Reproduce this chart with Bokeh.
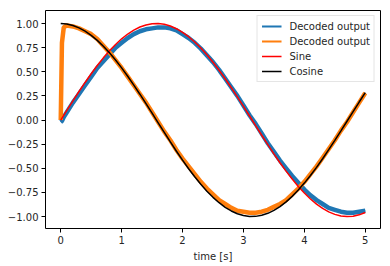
from bokeh.plotting import figure
from bokeh.models import Legend, LegendItem, FixedTicker, CustomJSTickFormatter, Range1d
from bokeh.embed import file_html
from bokeh.resources import INLINE

# time axis for reference curves
t = [round(0.1 * i, 1) for i in range(51)]
sine = [0.0, 0.0998, 0.1987, 0.2955, 0.3894, 0.4794, 0.5646, 0.6442, 0.7174, 0.7833,
        0.8415, 0.8912, 0.9320, 0.9636, 0.9854, 0.9975, 0.9996, 0.9917, 0.9738, 0.9463,
        0.9093, 0.8632, 0.8085, 0.7457, 0.6755, 0.5985, 0.5155, 0.4274, 0.3350, 0.2392,
        0.1411, 0.0416, -0.0584, -0.1577, -0.2555, -0.3508, -0.4425, -0.5298, -0.6119, -0.6878,
        -0.7568, -0.8183, -0.8716, -0.9162, -0.9516, -0.9775, -0.9937, -0.9999, -0.9962, -0.9825,
        -0.9589]
cosine = [1.0, 0.9950, 0.9801, 0.9553, 0.9211, 0.8776, 0.8253, 0.7648, 0.6967, 0.6216,
          0.5403, 0.4536, 0.3624, 0.2675, 0.1700, 0.0707, -0.0292, -0.1288, -0.2272, -0.3233,
          -0.4161, -0.5048, -0.5885, -0.6663, -0.7374, -0.8011, -0.8569, -0.9041, -0.9422, -0.9710,
          -0.9900, -0.9991, -0.9983, -0.9875, -0.9668, -0.9365, -0.8968, -0.8481, -0.7910, -0.7259,
          -0.6536, -0.5748, -0.4903, -0.4008, -0.3073, -0.2108, -0.1122, -0.0124, 0.0875, 0.1865,
          0.2837]

# decoded outputs
t_dec = [0.0, 0.02, 0.05] + [round(0.1 * i, 1) for i in range(1, 51)]
dec_sin = [-0.02, -0.01, 0.03,
           0.08, 0.18, 0.27, 0.36, 0.45, 0.54, 0.61, 0.68, 0.75, 0.80,
           0.85, 0.89, 0.92, 0.94, 0.95, 0.96, 0.96, 0.95, 0.93, 0.89,
           0.85, 0.80, 0.74, 0.67, 0.60, 0.52, 0.43, 0.34, 0.25, 0.15,
           0.05, -0.04, -0.14, -0.24, -0.33, -0.42, -0.50, -0.58, -0.65, -0.72,
           -0.78, -0.83, -0.87, -0.91, -0.93, -0.95, -0.96, -0.96, -0.95, -0.94]
dec_cos = [0.0, 0.80, 0.96,
           0.98, 0.97, 0.95, 0.92, 0.89, 0.84, 0.77, 0.70, 0.62, 0.54,
           0.45, 0.36, 0.27, 0.18, 0.08, -0.02, -0.12, -0.21, -0.31, -0.40,
           -0.48, -0.56, -0.64, -0.71, -0.77, -0.83, -0.87, -0.91, -0.94, -0.95,
           -0.96, -0.96, -0.95, -0.93, -0.90, -0.87, -0.83, -0.77, -0.71, -0.64,
           -0.56, -0.48, -0.39, -0.30, -0.21, -0.11, -0.02, 0.08, 0.18, 0.28]

x_ticks = [0, 1, 2, 3, 4, 5]
y_ticks = [-1.0, -0.75, -0.5, -0.25, 0.0, 0.25, 0.5, 0.75, 1.0]
labels = ["Decoded output", "Decoded output", "Sine", "Cosine"]
colors = ["#1f77b4", "#ff7f0e", "#ff0000", "#000000"]

p = figure(width=390, height=266, output_backend="svg", toolbar_location=None,
           x_range=Range1d(-0.25, 5.25), y_range=Range1d(-1.124, 1.135),
           min_border_left=45, min_border_right=10, min_border_top=10, min_border_bottom=38)
p.grid.visible = False
p.outline_line_color = "black"
p.outline_line_width = 1
p.background_fill_color = "white"
p.border_fill_color = "white"

# thin legend proxies drawn under the thick noisy-looking bands
l1 = p.line(t_dec, dec_sin, color=colors[0], line_width=1.8)
l2 = p.line(t_dec, dec_cos, color=colors[1], line_width=1.8)

r1 = p.line(t_dec, dec_sin, color=colors[0], line_width=4.5)
r2 = p.line(t_dec, dec_cos, color=colors[1], line_width=4.5)
r3 = p.line(t, sine, color=colors[2], line_width=1.5)
r4 = p.line(t, cosine, color=colors[3], line_width=1.5)

legend = Legend(items=[LegendItem(label=labels[0], renderers=[l1]),
                       LegendItem(label=labels[1], renderers=[l2]),
                       LegendItem(label=labels[2], renderers=[r3]),
                       LegendItem(label=labels[3], renderers=[r4])],
                location="top_right")
legend.label_text_font = "DejaVu Sans"
legend.label_text_font_size = "10px"
legend.label_text_color = "#262626"
legend.label_height = 12
legend.glyph_height = 12
legend.glyph_width = 20
legend.spacing = 3
legend.padding = 4
legend.margin = 5
legend.label_standoff = 8
legend.border_line_color = "#cccccc"
legend.background_fill_alpha = 0.8
p.add_layout(legend)

p.xaxis.ticker = FixedTicker(ticks=x_ticks)
p.yaxis.ticker = FixedTicker(ticks=y_ticks)
p.yaxis.formatter = CustomJSTickFormatter(code="return (tick < 0 ? '\\u2212' : '') + Math.abs(tick).toFixed(2);")
p.xaxis.formatter = CustomJSTickFormatter(code="return tick.toFixed(0);")
p.xaxis.axis_label = "time [s]"
for ax in (p.xaxis, p.yaxis):
    ax.minor_tick_line_color = None
    ax.major_tick_in = 0
    ax.major_tick_out = 4
    ax.axis_line_color = None
    ax.major_label_text_font = "DejaVu Sans"
    ax.major_label_text_font_size = "10px"
    ax.major_label_text_color = "#262626"
    ax.major_tick_line_color = "black"
    ax.axis_label_text_font = "DejaVu Sans"
    ax.axis_label_text_font_size = "10px"
    ax.axis_label_text_font_style = "normal"
    ax.axis_label_text_color = "#262626"
p.xaxis.major_label_standoff = 3
p.xaxis.axis_label_standoff = 4
p.yaxis.major_label_standoff = 3

open("out.html", "w").write(file_html(p, INLINE))
